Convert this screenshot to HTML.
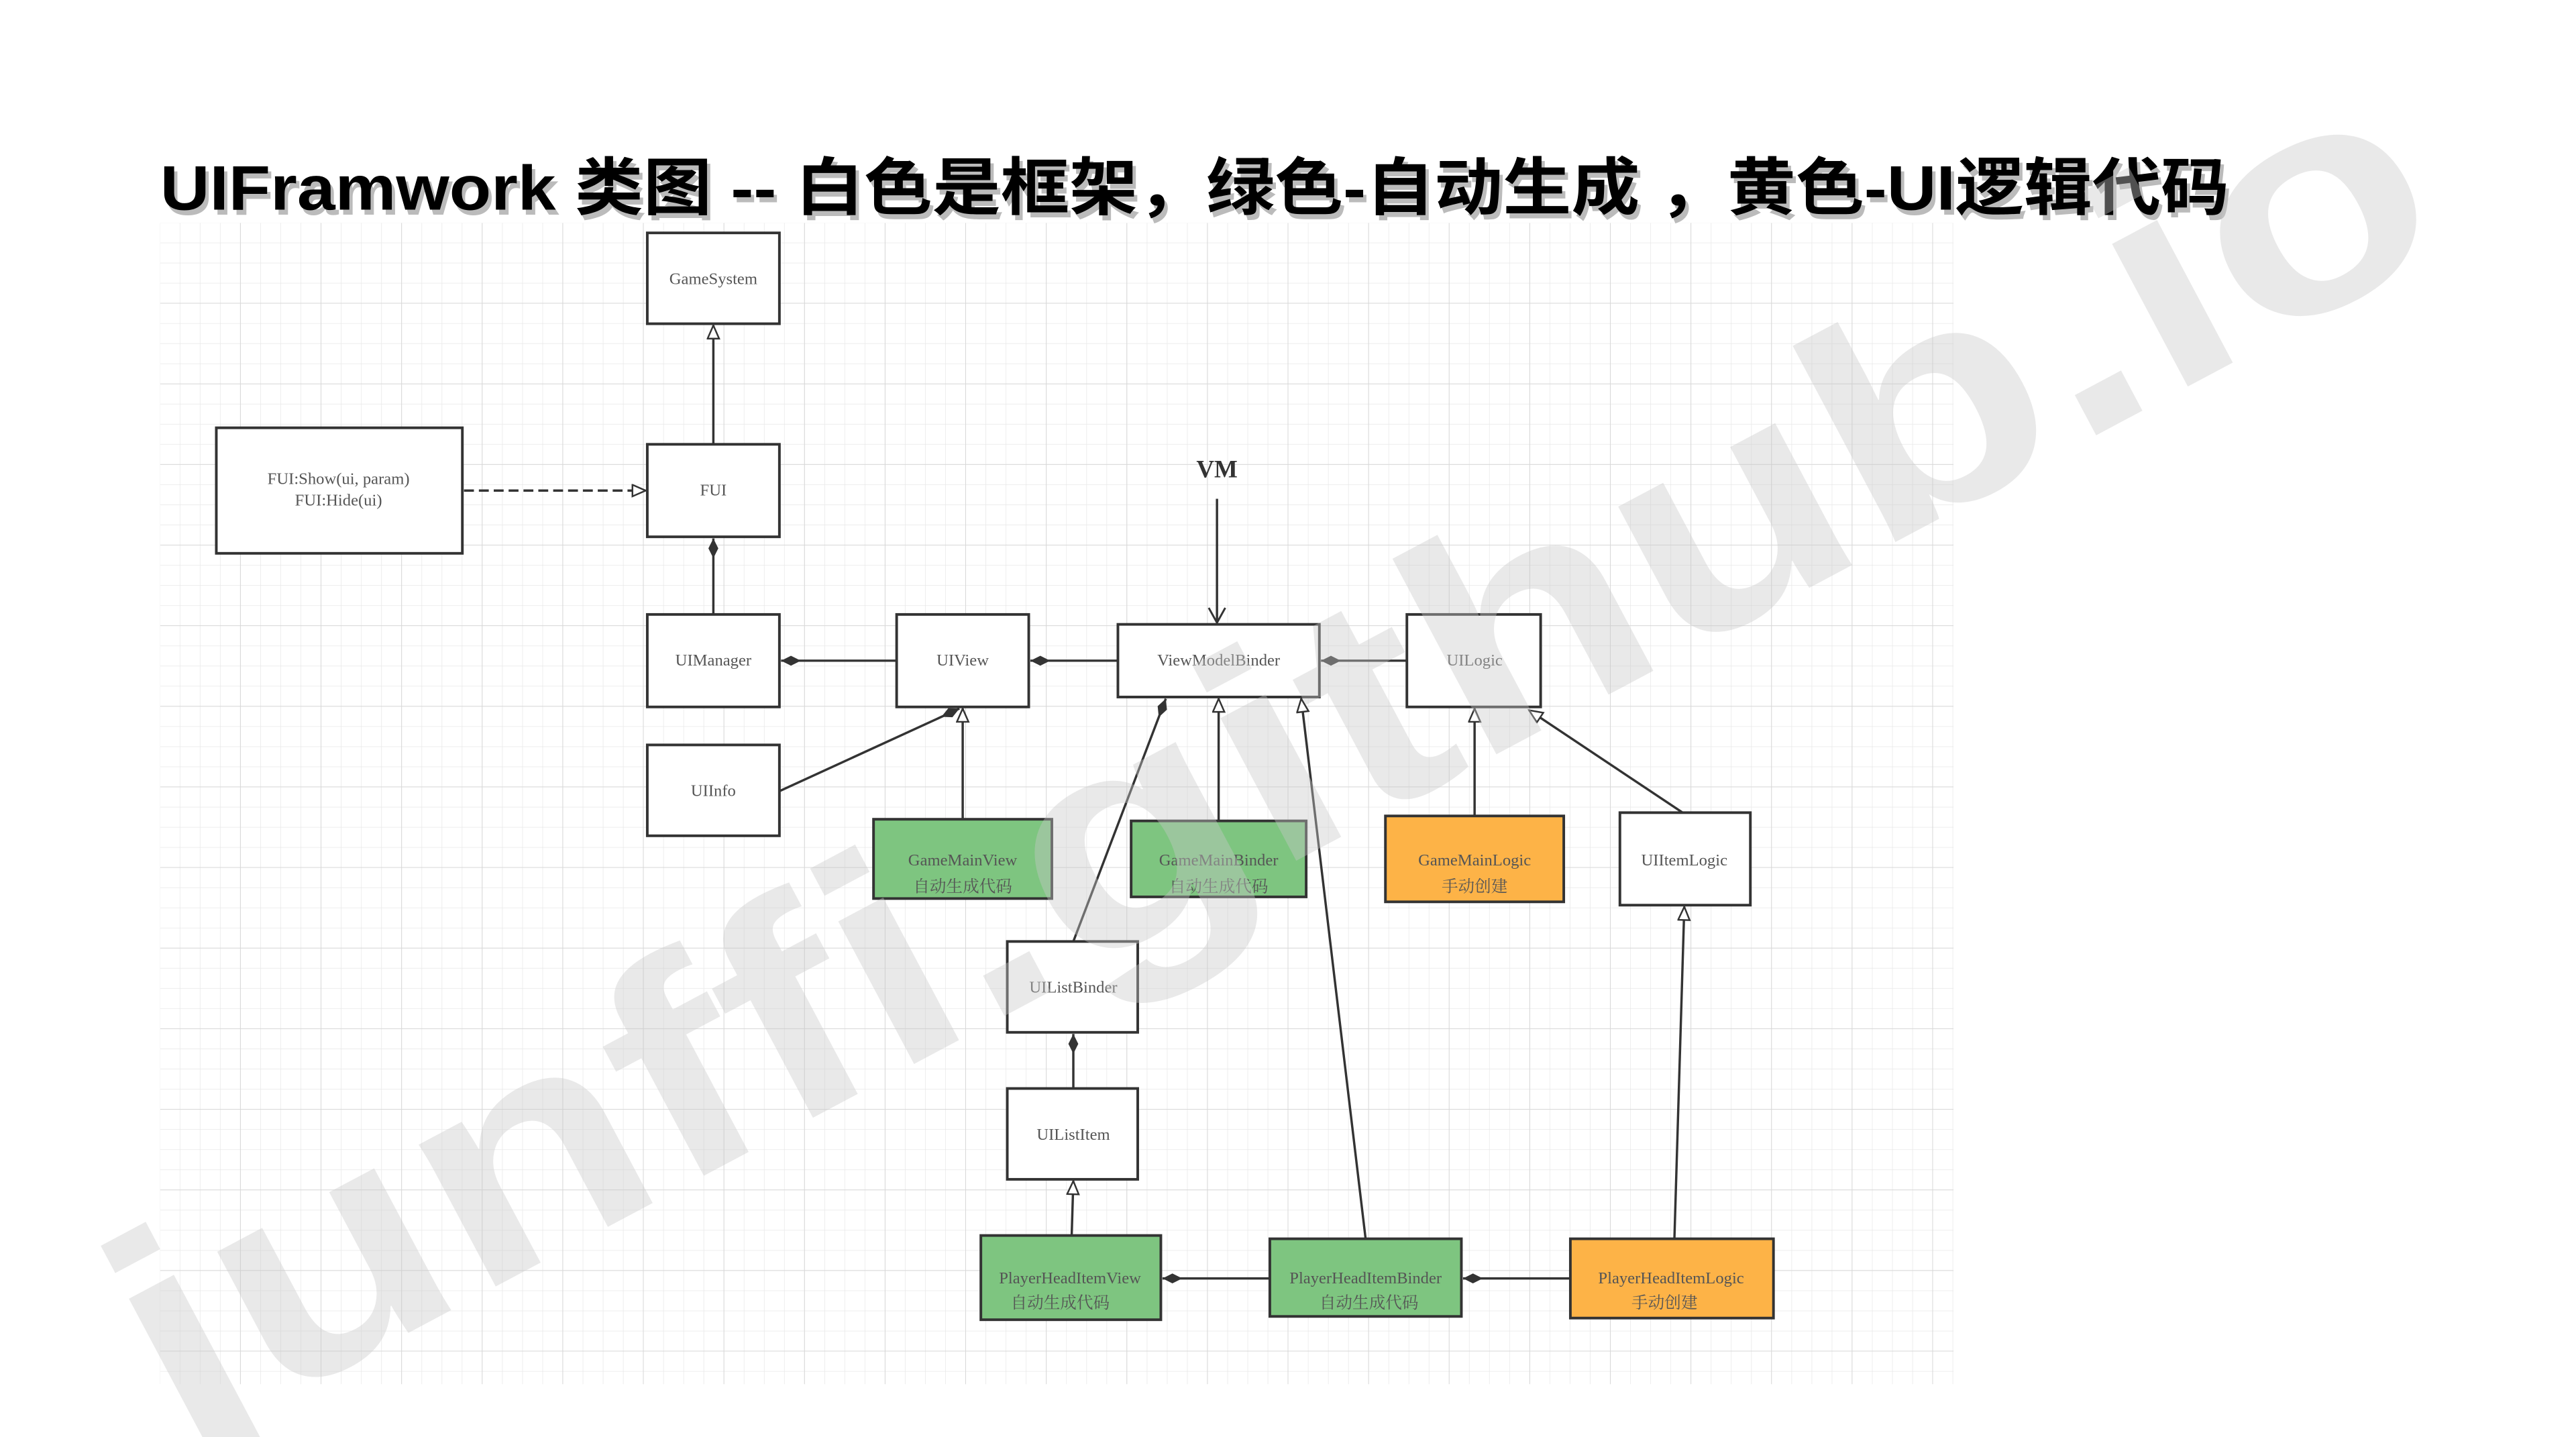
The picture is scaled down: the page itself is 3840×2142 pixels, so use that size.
<!DOCTYPE html>
<html><head><meta charset="utf-8"><style>
html,body{margin:0;padding:0;background:#fff;overflow:hidden;width:3840px;height:2142px;}
svg{display:block;}
</style></head><body>
<svg width="3840" height="2142" viewBox="0 0 1560 870" preserveAspectRatio="none" xmlns="http://www.w3.org/2000/svg">
<defs>
<pattern id="minor" width="12.2" height="12.2" patternUnits="userSpaceOnUse" x="97" y="135">
<path d="M12.2 0V12.2H0" fill="none" stroke="#e8e8e8" stroke-width="0.6"/>
</pattern>
<pattern id="major" width="48.8" height="48.8" patternUnits="userSpaceOnUse" x="97" y="135">
<path d="M48.8 0V48.8H0" fill="none" stroke="#d8d8d8" stroke-width="0.8"/>
</pattern>
<marker id="tri" markerWidth="10" markerHeight="10" refX="9" refY="4" orient="auto" markerUnits="userSpaceOnUse">
<path d="M1 0.5 L9 4 L1 7.5 Z" fill="#fff" stroke="#333" stroke-width="1"/>
</marker>
<marker id="dia" markerWidth="14" markerHeight="10" refX="13" refY="4" orient="auto" markerUnits="userSpaceOnUse">
<path d="M13 4 L7 1 L1 4 L7 7 Z" fill="#333"/>
</marker>
<marker id="open" markerWidth="12" markerHeight="12" refX="10" refY="6" orient="auto" markerUnits="userSpaceOnUse">
<path d="M1 1 L10 6 L1 11" fill="none" stroke="#333" stroke-width="1.2"/>
</marker>
</defs>
<rect x="97" y="135" width="1086" height="703" fill="url(#minor)"/>
<rect x="97" y="135" width="1086" height="703" fill="url(#major)"/>

<g font-family="'Liberation Sans','Noto Sans CJK SC',sans-serif" font-weight="bold" font-size="38">
<text x="99" y="130" fill="#bbb" textLength="1253" lengthAdjust="spacingAndGlyphs">UIFramwork 类图 -- 白色是框架，绿色-自动生成 ，黄色-UI逻辑代码</text>
<text x="97" y="127" fill="#000" textLength="1253" lengthAdjust="spacingAndGlyphs">UIFramwork 类图 -- 白色是框架，绿色-自动生成 ，黄色-UI逻辑代码</text>
</g>

<g stroke="#333" stroke-width="1.4" fill="none">
<line x1="432" y1="269" x2="432" y2="197" marker-end="url(#tri)"/>
<line x1="281" y1="297" x2="391" y2="297" stroke-dasharray="6,3" marker-end="url(#tri)"/>
<line x1="432" y1="372" x2="432" y2="326" marker-end="url(#dia)"/>
<line x1="543" y1="400" x2="473" y2="400" marker-end="url(#dia)"/>
<line x1="677" y1="400" x2="624" y2="400" marker-end="url(#dia)"/>
<line x1="852" y1="400" x2="800" y2="400" marker-end="url(#dia)"/>
<line x1="737" y1="302" x2="737" y2="377" marker-end="url(#open)"/>
<line x1="472" y1="479" x2="581" y2="429" marker-end="url(#dia)"/>
<line x1="583" y1="496" x2="583" y2="429" marker-end="url(#tri)"/>
<line x1="650" y1="570" x2="706" y2="423" marker-end="url(#dia)"/>
<line x1="738" y1="497" x2="738" y2="423" marker-end="url(#tri)"/>
<line x1="827" y1="750" x2="788" y2="423" marker-end="url(#tri)"/>
<line x1="893" y1="494" x2="893" y2="429" marker-end="url(#tri)"/>
<line x1="1019" y1="492" x2="926" y2="430" marker-end="url(#tri)"/>
<line x1="650" y1="659" x2="650" y2="626" marker-end="url(#dia)"/>
<line x1="649" y1="748" x2="650" y2="715" marker-end="url(#tri)"/>
<line x1="769" y1="774" x2="704" y2="774" marker-end="url(#dia)"/>
<line x1="951" y1="774" x2="886" y2="774" marker-end="url(#dia)"/>
<line x1="1014" y1="750" x2="1020" y2="549" marker-end="url(#tri)"/>
</g>

<g stroke="#333" stroke-width="1.6">
<rect x="392" y="141" width="80" height="55" fill="#fff"/>
<rect x="131" y="259" width="149" height="76" fill="#fff"/>
<rect x="392" y="269" width="80" height="56" fill="#fff"/>
<rect x="392" y="372" width="80" height="56" fill="#fff"/>
<rect x="543" y="372" width="80" height="56" fill="#fff"/>
<rect x="677" y="378" width="122" height="44" fill="#fff"/>
<rect x="852" y="372" width="81" height="56" fill="#fff"/>
<rect x="392" y="451" width="80" height="55" fill="#fff"/>
<rect x="529" y="496" width="108" height="48" fill="#7ec580"/>
<rect x="685" y="497" width="106" height="46" fill="#7ec580"/>
<rect x="839" y="494" width="108" height="52" fill="#fdb347"/>
<rect x="981" y="492" width="79" height="56" fill="#fff"/>
<rect x="610" y="570" width="79" height="55" fill="#fff"/>
<rect x="610" y="659" width="79" height="55" fill="#fff"/>
<rect x="594" y="748" width="109" height="51" fill="#7ec580"/>
<rect x="769" y="750" width="116" height="47" fill="#7ec580"/>
<rect x="951" y="750" width="123" height="48" fill="#fdb347"/>
</g>

<g font-family="'Liberation Serif','Noto Serif CJK SC',serif" font-size="10" fill="#555" text-anchor="middle">
<text x="432" y="172">GameSystem</text>
<text x="205" y="293">FUI:Show(ui, param)</text>
<text x="205" y="306">FUI:Hide(ui)</text>
<text x="432" y="300">FUI</text>
<text x="432" y="403">UIManager</text>
<text x="583" y="403">UIView</text>
<text x="738" y="403">ViewModelBinder</text>
<text x="893" y="403">UILogic</text>
<text x="432" y="482">UIInfo</text>
<text x="583" y="524">GameMainView</text>
<text x="583" y="540">自动生成代码</text>
<text x="738" y="524">GameMainBinder</text>
<text x="738" y="540">自动生成代码</text>
<text x="893" y="524">GameMainLogic</text>
<text x="893" y="540">手动创建</text>
<text x="1020" y="524">UIItemLogic</text>
<text x="650" y="601">UIListBinder</text>
<text x="650" y="690">UIListItem</text>
<text x="648" y="777">PlayerHeadItemView</text>
<text x="642" y="792">自动生成代码</text>
<text x="827" y="777">PlayerHeadItemBinder</text>
<text x="829" y="792">自动生成代码</text>
<text x="1012" y="777">PlayerHeadItemLogic</text>
<text x="1008" y="792">手动创建</text>
</g>
<text x="737" y="289" font-family="'Liberation Serif',serif" font-weight="bold" font-size="15" fill="#333" text-anchor="middle">VM</text>

<text x="0" y="0" transform="translate(110,880) rotate(-28)" font-family="'Liberation Sans',sans-serif" font-weight="bold" font-size="185" fill="#c8c8c8" fill-opacity="0.4" textLength="1560" lengthAdjust="spacingAndGlyphs">junffi.github.io</text>
</svg>
</body></html>
